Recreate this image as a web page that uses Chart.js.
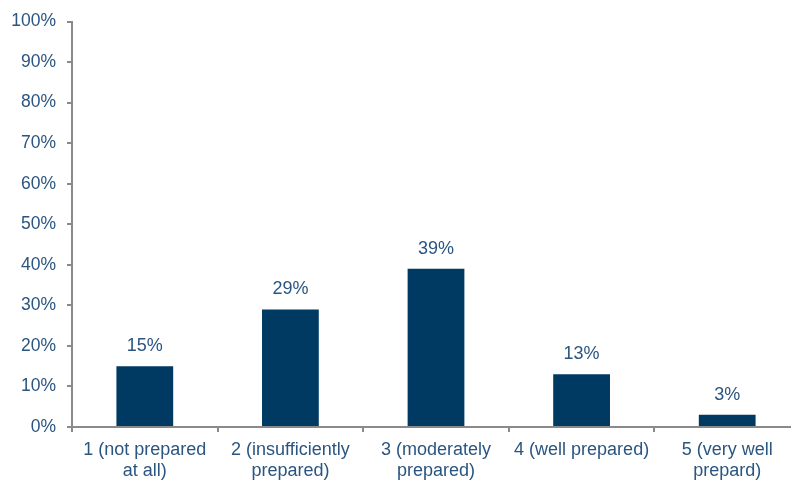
<!DOCTYPE html>
<html>
<head>
<meta charset="utf-8">
<script src="https://cdn.jsdelivr.net/npm/chart.js@4"></script>
<style>
  html, body { margin: 0; padding: 0; background: #ffffff; overflow: hidden; }
  #wrap { width: 800px; height: 481px; }
</style>
</head>
<body>
<div id="wrap"><canvas id="c" width="800" height="481"></canvas></div>
<script>
// Survey responses: how prepared respondents feel (share of answers, %)
const categories = [
  ['1 (not prepared', 'at all)'],
  ['2 (insufficiently', 'prepared)'],
  ['3 (moderately', 'prepared)'],
  ['4 (well prepared)'],
  ['5 (very well', 'prepard)']
];
const shares = [15, 29, 39, 13, 3];
const yTicks = [0, 10, 20, 30, 40, 50, 60, 70, 80, 90, 100];

const textColor = '#2a5580';
const barColor = '#003a63';
const axisColor = '#8a8a8a';
const font = { family: 'Liberation Sans, Arial, sans-serif', size: 18 };

// Writes each bar's percentage just above the bar
const valueLabels = {
  id: 'valueLabels',
  afterDatasetsDraw(chart) {
    const ctx = chart.ctx;
    const meta = chart.getDatasetMeta(0);
    ctx.save();
    ctx.font = font.size + 'px ' + font.family;
    ctx.fillStyle = textColor;
    ctx.textAlign = 'center';
    ctx.textBaseline = 'middle';
    meta.data.forEach((bar, i) => {
      ctx.fillText(shares[i] + '%', bar.x, bar.y - 20);
    });
    ctx.restore();
  }
};

new Chart(document.getElementById('c'), {
  type: 'bar',
  data: {
    labels: categories,
    datasets: [{
      data: shares,
      backgroundColor: barColor,
      borderWidth: 0,
      barPercentage: 1,
      categoryPercentage: 0.39
    }]
  },
  options: {
    responsive: false,
    animation: false,
    layout: { padding: { top: 20, right: 0, bottom: 0, left: 0 } },
    plugins: { legend: { display: false }, tooltip: { enabled: false } },
    scales: {
      x: {
        grid: { drawOnChartArea: false, tickLength: 5, color: axisColor, lineWidth: 2 },
        border: { color: axisColor, width: 2 },
        ticks: { color: textColor, font: { ...font, lineHeight: 1.2 }, padding: 7, maxRotation: 0, autoSkip: false },
        afterFit(scale) { scale.height = 54; }
      },
      y: {
        min: 0,
        max: 100,
        afterBuildTicks(scale) { scale.ticks = yTicks.map(v => ({ value: v })); },
        grid: { drawOnChartArea: false, tickLength: 5, color: axisColor, lineWidth: 2 },
        border: { color: axisColor, width: 2 },
        ticks: { color: textColor, font: { ...font, size: 17.5 }, padding: 11, callback: v => v + '%' },
        afterFit(scale) { scale.width = 72; }
      }
    }
  },
  plugins: [valueLabels]
});
</script>
</body>
</html>
